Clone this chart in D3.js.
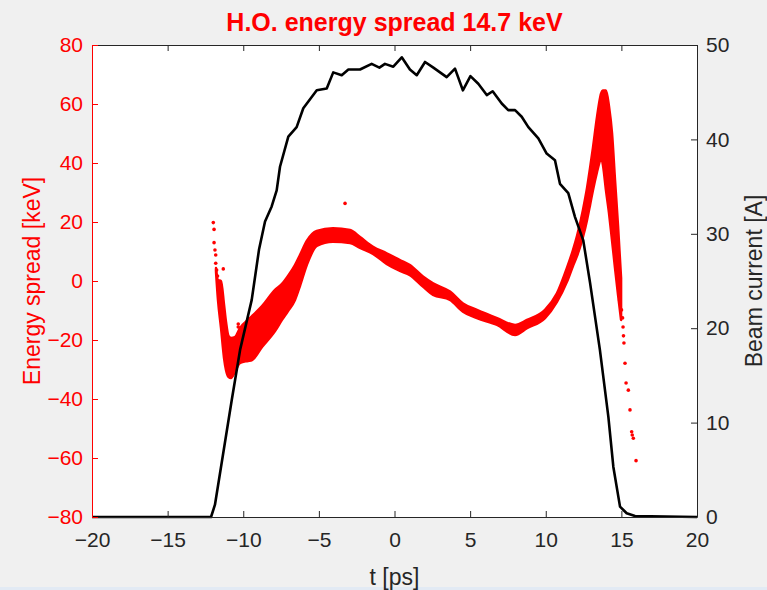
<!DOCTYPE html>
<html>
<head>
<meta charset="utf-8">
<script src="https://cdn.jsdelivr.net/npm/d3@7"></script>
<style>
  html, body { margin: 0; padding: 0; background: #f0f0f0; }
  svg { display: block; font-family: 'Liberation Sans', Arial, sans-serif; }
</style>
</head>
<body>
<script>
// x axis ticks
const xTicks = [-20, -15, -10, -5, 0, 5, 10, 15, 20]
const leftTicks = [-80, -60, -40, -20, 0, 20, 40, 60, 80]
const rightTicks = [0, 10, 20, 30, 40, 50]

// beam current (black line, right axis)
const currentT = [-20, -12.13, -11.87, -10.76, -10.21, -9.44, -8.96, -8.56, -8.12, -7.79, -7.57, -7.02, -6.47, -6.03, -5.14, -4.48, -4.05, -3.49, -3.05, -2.28, -1.51, -1.00, -0.63, -0.08, 0.48, 1.02, 1.47, 2.02, 2.57, 3.45, 4.00, 4.52, 5.02, 5.54, 6.10, 6.49, 7.09, 7.52, 7.97, 8.41, 8.85, 9.51, 10.06, 10.61, 10.94, 11.49, 11.93, 12.48, 12.93, 13.58, 14.14, 14.47, 14.91, 15.35, 15.90, 20]
const currentI = [0, 0, 1.3, 12.4, 17.7, 23.0, 28.3, 31.3, 32.9, 34.6, 37.1, 40.3, 41.3, 43.3, 45.2, 45.4, 47.1, 46.8, 47.4, 47.4, 48.0, 47.6, 48.0, 47.7, 48.7, 47.4, 46.8, 48.2, 47.6, 46.6, 47.5, 45.2, 46.7, 45.9, 44.7, 45.1, 43.8, 43.1, 43.1, 42.4, 41.3, 40.1, 38.5, 37.8, 35.3, 34.3, 31.8, 29.3, 24.8, 17.7, 10.6, 5.3, 1.1, 0.4, 0.1, 0]

// dense part of the energy spread scatter: upper / lower edge of the cloud
const bandT = [-11.80, -11.67, -11.47, -11.27, -11.14, -10.98, -10.81, -10.55, -10.21, -9.69, -9.42, -8.76, -7.90, -7.44, -7.04, -6.58, -6.25, -5.80, -5.14, -4.07, -2.94, -2.28, -1.42, -0.52, 0.36, 1.02, 1.88, 2.55, 3.67, 4.53, 5.45, 6.78, 7.97, 8.76, 9.95, 10.74, 11.40, 11.80, 12.07, 12.46, 12.73, 12.93, 13.12, 13.39, 13.59, 13.65, 13.79, 13.98, 14.18, 14.38, 14.58, 14.78, 14.98]
const bandHi = [4.4, 0.3, 0.0, -8.1, -13.9, -18.6, -19.3, -19.0, -15.9, -13.2, -11.9, -8.5, -3.0, -1.0, 1.7, 5.4, 8.8, 13.6, 17.0, 17.9, 17.3, 14.9, 11.6, 9.4, 7.1, 5.4, 1.5, -0.8, -3.6, -7.6, -9.8, -12.6, -14.9, -13.2, -9.8, -4.2, 4.4, 10.5, 15.3, 24.1, 31.5, 38.3, 45.1, 55.6, 62.0, 63.4, 64.6, 64.6, 59.3, 50.2, 34.2, 18.6, 1.0]
const bandLo = [3.1, -6.4, -15.9, -26.1, -30.2, -32.5, -32.9, -30.8, -27.8, -27.1, -26.8, -22.4, -17.0, -13.2, -10.2, -6.4, -1.7, 5.4, 11.9, 13.3, 12.9, 11.2, 9.2, 5.8, 3.4, 2.0, -1.9, -4.7, -6.4, -10.4, -12.6, -14.9, -18.3, -16.0, -12.6, -7.1, -0.3, 5.1, 8.5, 14.9, 20.7, 25.8, 30.8, 37.0, 41.0, 42.0, 39.0, 30.8, 23.1, 13.9, 4.4, -4.7, -13.2]

// isolated scatter points
const scatterT = [-11.98, -11.93, -11.93, -11.87, -11.82, -11.82, -11.76, -11.70, -11.32, -10.33, -10.33, -3.27, 14.88, 15.01, 15.08, 15.11, 15.14, 15.17, 15.24, 15.31, 15.46, 15.57, 15.68, 15.72, 15.79, 15.97]
const scatterE = [19.8, 17.5, 13.0, 10.5, 8.8, 6.0, 3.7, 1.7, 4.1, -14.6, -15.6, 26.3, -6.4, -9.8, -12.5, -15.6, -18.6, -21.0, -27.9, -34.6, -37.0, -43.7, -51.1, -52.2, -53.3, -60.9]

const W = 767, H = 590
const M = { left: 92, right: 697, top: 45, bottom: 517 }
const RED = '#ff0000', INK = '#262626'

const svg = d3.select('body').append('svg')
  .attr('width', W)
  .attr('height', H)

svg.append('rect').attr('width', W).attr('height', H).attr('fill', '#f0f0f0')
svg.append('rect').attr('x', 0).attr('y', H - 3).attr('width', W).attr('height', 3).attr('fill', '#e2eaf4')
svg.append('rect')
  .attr('x', M.left).attr('y', M.top)
  .attr('width', M.right - M.left).attr('height', M.bottom - M.top)
  .attr('fill', '#fff')

const x = d3.scaleLinear().domain([-20, 20]).range([M.left, M.right])
const yL = d3.scaleLinear().domain([-80, 80]).range([M.bottom, M.top])
const yR = d3.scaleLinear().domain([0, 50]).range([M.bottom, M.top])

// scatter cloud
const band = bandT.map((t, i) => ({ t, hi: bandHi[i], lo: bandLo[i] }))
svg.append('path')
  .datum(band)
  .attr('fill', RED)
  .attr('stroke', RED)
  .attr('stroke-width', 2.5)
  .attr('stroke-linejoin', 'round')
  .attr('d', d3.area().curve(d3.curveMonotoneX).x(d => x(d.t)).y0(d => yL(d.lo)).y1(d => yL(d.hi)))

svg.append('g')
  .selectAll('circle')
  .data(scatterT.map((t, i) => ({ t, e: scatterE[i] })))
  .enter()
  .append('circle')
  .attr('cx', d => x(d.t))
  .attr('cy', d => yL(d.e))
  .attr('r', 1.8)
  .attr('fill', RED)

// beam current
svg.append('path')
  .datum(currentT.map((t, i) => ({ t, v: currentI[i] })))
  .attr('fill', 'none')
  .attr('stroke', '#000')
  .attr('stroke-width', 2.6)
  .attr('stroke-linejoin', 'round')
  .attr('d', d3.line().x(d => x(d.t)).y(d => yR(d.v)))

const styleAxis = (g, color) => {
  g.selectAll('path').attr('stroke', color).attr('stroke-width', 1)
  g.selectAll('line').attr('stroke', color).attr('stroke-width', 1)
  g.selectAll('text').attr('fill', color).attr('font-size', 21)
    .attr('font-family', "'Liberation Sans', Arial, sans-serif")
}

svg.append('g')
  .attr('transform', `translate(0,${M.top})`)
  .call(d3.axisTop(x).tickValues(xTicks).tickSize(-6).tickSizeOuter(0).tickFormat(''))
  .call(g => styleAxis(g, INK))

svg.append('g')
  .attr('transform', `translate(0,${M.bottom})`)
  .call(d3.axisBottom(x).tickValues(xTicks).tickSize(-6).tickSizeOuter(0).tickPadding(15))
  .call(g => styleAxis(g, INK))

svg.append('g')
  .attr('transform', `translate(${M.right},0)`)
  .call(d3.axisRight(yR).tickValues(rightTicks).tickSize(-6).tickSizeOuter(0).tickPadding(9))
  .call(g => styleAxis(g, INK))

svg.append('g')
  .attr('transform', `translate(${M.left},0)`)
  .call(d3.axisLeft(yL).tickValues(leftTicks).tickSize(-6).tickSizeOuter(0).tickPadding(9))
  .call(g => styleAxis(g, RED))

// titles
svg.append('text')
  .attr('x', (M.left + M.right) / 2)
  .attr('y', 31)
  .attr('text-anchor', 'middle')
  .attr('font-size', 25)
  .attr('font-weight', 'bold')
  .attr('fill', RED)
  .text('H.O. energy spread 14.7 keV')

svg.append('text')
  .attr('x', (M.left + M.right) / 2)
  .attr('y', 585)
  .attr('text-anchor', 'middle')
  .attr('font-size', 23)
  .attr('fill', INK)
  .text('t [ps]')

svg.append('text')
  .attr('transform', `translate(40,${(M.top + M.bottom) / 2}) rotate(-90)`)
  .attr('text-anchor', 'middle')
  .attr('font-size', 23)
  .attr('fill', RED)
  .text('Energy spread [keV]')

svg.append('text')
  .attr('transform', `translate(762,${(M.top + M.bottom) / 2}) rotate(-90)`)
  .attr('text-anchor', 'middle')
  .attr('font-size', 23)
  .attr('fill', INK)
  .text('Beam current [A]')
</script>
</body>
</html>
